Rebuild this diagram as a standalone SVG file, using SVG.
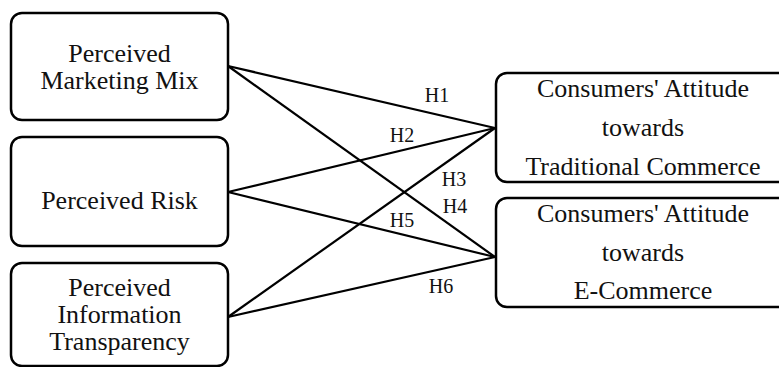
<svg xmlns="http://www.w3.org/2000/svg" width="779" height="367" viewBox="0 0 779 367">
<style>
.box{fill:#fff;stroke:#000;stroke-width:2.5}
.t{font-family:"Liberation Serif","Times New Roman",serif;font-size:26px;fill:#111;text-anchor:middle}
.h{font-family:"Liberation Serif","Times New Roman",serif;font-size:20px;fill:#111;text-anchor:middle}
.c{stroke:#000;stroke-width:2.2;fill:none}
</style>
<rect width="779" height="367" fill="#fff"/>
<g id="connectors">
<line class="c" x1="228" y1="66" x2="495" y2="128"/>
<line class="c" x1="228" y1="66" x2="495" y2="257"/>
<line class="c" x1="228" y1="192" x2="495" y2="128"/>
<line class="c" x1="228" y1="192" x2="495" y2="257"/>
<line class="c" x1="228" y1="317" x2="495" y2="128"/>
<line class="c" x1="228" y1="317" x2="495" y2="257"/>
<text class="h" x="437" y="102">H1</text>
<text class="h" x="402" y="142">H2</text>
<text class="h" x="454" y="186">H3</text>
<text class="h" x="455" y="213">H4</text>
<text class="h" x="402" y="227">H5</text>
<text class="h" x="441" y="293">H6</text>
</g>
<g id="pmm">
<rect class="box" x="11" y="13" width="217" height="107" rx="11"/>
<text class="t" x="119.5" y="62">Perceived</text>
<text class="t" x="119.5" y="88.5">Marketing Mix</text>
</g>
<g id="pr">
<rect class="box" x="11" y="137" width="217" height="109" rx="11"/>
<text class="t" x="119.5" y="209">Perceived Risk</text>
</g>
<g id="pit">
<rect class="box" x="11" y="263" width="217" height="103" rx="11"/>
<text class="t" x="119.5" y="296">Perceived</text>
<text class="t" x="119.5" y="323">Information</text>
<text class="t" x="119.5" y="350">Transparency</text>
</g>
<g id="catc">
<rect class="box" x="496" y="73" width="300" height="109" rx="11"/>
<text class="t" x="643" y="97">Consumers' Attitude</text>
<text class="t" x="643" y="136">towards</text>
<text class="t" x="643" y="175">Traditional Commerce</text>
</g>
<g id="cae">
<rect class="box" x="496" y="198" width="300" height="109" rx="11"/>
<text class="t" x="643" y="222">Consumers' Attitude</text>
<text class="t" x="643" y="261">towards</text>
<text class="t" x="643" y="299">E-Commerce</text>
</g>
</svg>
